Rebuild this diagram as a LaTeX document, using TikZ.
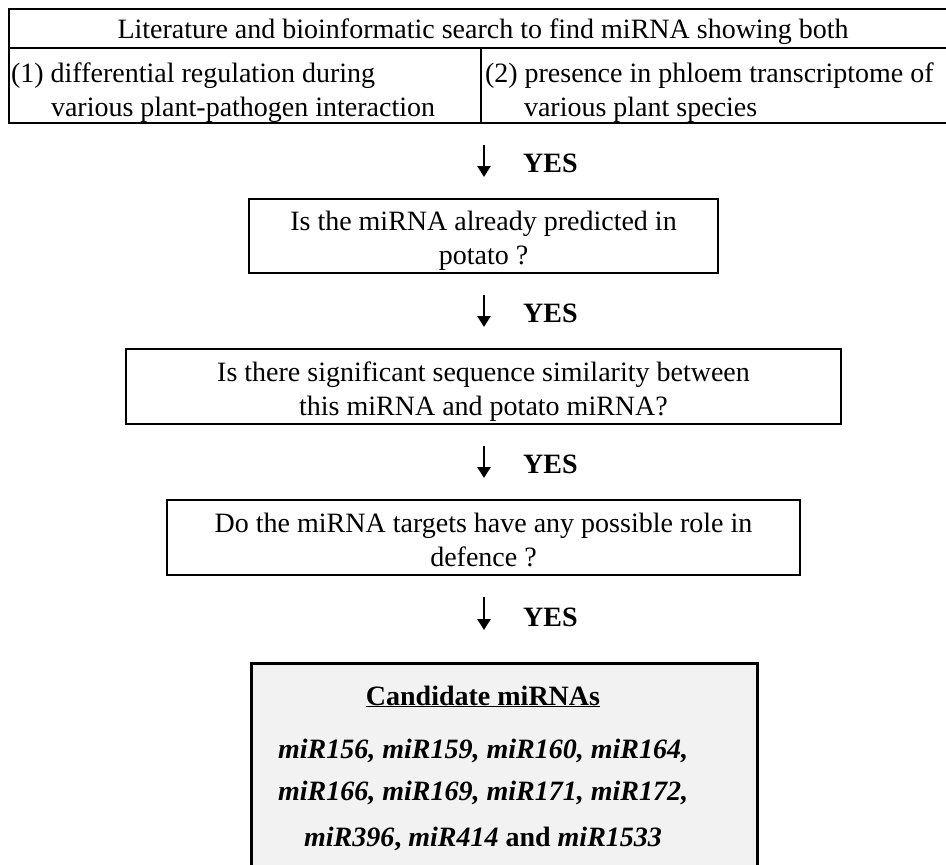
\documentclass[tikz,border=0pt]{standalone}
\usepackage{fontspec}
\setmainfont{Liberation Serif}
\usetikzlibrary{arrows.meta}
\definecolor{candfill}{HTML}{F2F2F2}
\begin{document}
\begin{tikzpicture}[x=1pt,y=-1pt,
  txt/.style={font=\fontsize{28}{34}\selectfont, inner sep=0pt, outer sep=0pt},
  qbox/.style={draw, line width=2.3pt, inner sep=0pt},
  flow/.style={line width=2.4pt, -{Triangle[width=13pt,length=11pt]}},
  yes/.style={font=\fontsize{28}{34}\selectfont\bfseries, anchor=base west, inner sep=0pt},
  rule/.style={line width=2pt}]
\useasboundingbox (0,0) rectangle (946,865);

% top table
\draw[rule, line join=miter] (946,9) -- (9,9) -- (9,123) -- (946,123);
\draw[rule] (9,48) -- (946,48);
\draw[rule] (481,48) -- (481,123);
\node[txt, anchor=base] (t0) at (483,38) {Literature and bioinformatic search to find miRNA showing both};
\node[txt, anchor=base west] (t1a) at (11,82) {(1) differential regulation during};
\node[txt, anchor=base west] (t1b) at (51,116) {various plant-pathogen interaction};
\node[txt, anchor=base west] (t2a) at (485,82) {(2) presence in phloem transcriptome of};
\node[txt, anchor=base west] (t2b) at (524,116) {various plant species};

% question boxes
\node[qbox, minimum width=469pt, minimum height=74pt] (q1) at (483.5,236) {};
\node[txt, anchor=base] (q1a) at (483.5,230) {Is the miRNA already predicted in};
\node[txt, anchor=base] (q1b) at (483.5,264) {potato ?};

\node[qbox, minimum width=715pt, minimum height=75pt] (q2) at (483.5,386.5) {};
\node[txt, anchor=base] (q2a) at (483.5,381) {Is there significant sequence similarity between};
\node[txt, anchor=base] (q2b) at (483.5,415) {this miRNA and potato miRNA?};

\node[qbox, minimum width=633pt, minimum height=75pt] (q3) at (483.5,537.5) {};
\node[txt, anchor=base] (q3a) at (483.5,532) {Do the miRNA targets have any possible role in};
\node[txt, anchor=base] (q3b) at (483.5,566) {defence ?};

% candidate box
\node[draw, line width=2.5pt, fill=candfill, minimum width=506pt, minimum height=230pt,
      inner sep=0pt, anchor=north west] (cand) at (250,662) {};
\node[txt, anchor=base, font=\fontsize{28}{34}\selectfont\bfseries] (c0) at (483,705) {\underline{Candidate miRNAs}};
\node[txt, anchor=base, font=\fontsize{28}{34}\selectfont\bfseries\itshape] (c1) at (483,758) {miR156, miR159, miR160, miR164,};
\node[txt, anchor=base, font=\fontsize{28}{34}\selectfont\bfseries\itshape] (c2) at (483,800) {miR166, miR169, miR171, miR172,};
\node[txt, anchor=base, font=\fontsize{28}{34}\selectfont\bfseries] (c3) at (483,846) {\textit{miR396}, \textit{miR414} and \textit{miR1533}};

% arrows
\coordinate (a1s) at (484,145); \coordinate (a1e) at (484,177);
\coordinate (a2s) at (484,295); \coordinate (a2e) at (484,327);
\coordinate (a3s) at (484,446); \coordinate (a3e) at (484,478);
\coordinate (a4s) at (484,597); \coordinate (a4e) at (484,630);
\draw[flow] (a1s) -- (a1e);
\draw[flow] (a2s) -- (a2e);
\draw[flow] (a3s) -- (a3e);
\draw[flow] (a4s) -- (a4e);
\node[yes] (y1) at (523,172) {YES};
\node[yes] (y2) at (523,322) {YES};
\node[yes] (y3) at (523,473) {YES};
\node[yes] (y4) at (523,626) {YES};
\end{tikzpicture}
\end{document}
